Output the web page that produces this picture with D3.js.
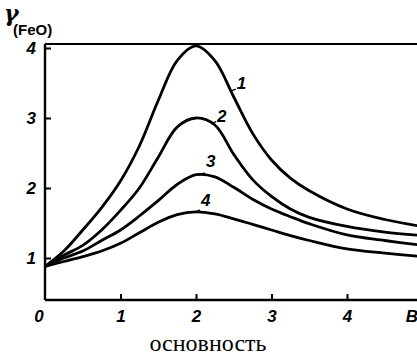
<!DOCTYPE html>
<html>
<head>
<meta charset="utf-8">
<script src="https://d3js.org/d3.v7.min.js"></script>
<style>
  body { margin: 0; background: #fff; }
  svg { display: block; }
</style>
</head>
<body>
<div id="chart"></div>
<script>
// basicity values along the x axis
var basicity = [0, 0.25, 0.5, 0.75, 1, 1.25, 1.5, 1.75, 2, 2.25, 2.5, 2.75, 3, 3.25, 3.5, 4, 4.5, 5];
// activity coefficient of FeO, one array per curve
var curve1 = [0.88, 1.10, 1.40, 1.72, 2.10, 2.60, 3.25, 3.82, 4.03, 3.82, 3.30, 2.78, 2.40, 2.14, 1.96, 1.70, 1.55, 1.45];
var curve2 = [0.88, 1.04, 1.18, 1.40, 1.68, 2.00, 2.44, 2.87, 3.00, 2.90, 2.48, 2.12, 1.88, 1.70, 1.58, 1.45, 1.37, 1.32];
var curve3 = [0.88, 1.00, 1.10, 1.25, 1.40, 1.60, 1.82, 2.05, 2.19, 2.16, 2.01, 1.84, 1.70, 1.59, 1.49, 1.33, 1.25, 1.18];
var curve4 = [0.88, 0.95, 1.02, 1.10, 1.21, 1.36, 1.51, 1.62, 1.66, 1.63, 1.56, 1.48, 1.40, 1.32, 1.25, 1.13, 1.07, 1.02];
var curveNames = ["1", "2", "3", "4"];
var xTicks = [1, 2, 3, 4];
var yTicks = [1, 2, 3, 4];

var W = 417, H = 358;
var svg = d3.select("#chart").append("svg")
    .attr("width", W).attr("height", H);

var x = d3.scaleLinear().domain([0, 5]).range([45, 422.5]);
var y = d3.scaleLinear().domain([0.4, 4.057]).range([300, 44]);

var tickFont = "'Liberation Sans', Arial, sans-serif";

// frame lines: left, top, bottom
svg.append("line").attr("x1", x(0)).attr("x2", x(0)).attr("y1", y(4.057)).attr("y2", y(0.4))
  .attr("stroke", "#000").attr("stroke-width", 2.4);
svg.append("line").attr("x1", x(0)).attr("x2", W).attr("y1", y(4.057)).attr("y2", y(4.057))
  .attr("stroke", "#000").attr("stroke-width", 2);
svg.append("line").attr("x1", x(0)).attr("x2", W).attr("y1", y(0.4)).attr("y2", y(0.4))
  .attr("stroke", "#000").attr("stroke-width", 2.4);

// x axis (ticks pointing up into the plot)
var gx = svg.append("g").attr("transform", "translate(0," + y(0.4) + ")")
  .call(d3.axisBottom(x).tickValues(xTicks).tickSize(-6).tickSizeOuter(0).tickFormat(d3.format("d")));
gx.select(".domain").remove();
gx.selectAll("line").attr("stroke", "#000").attr("stroke-width", 2);
gx.selectAll("text").attr("y", 16).attr("dy", "0.35em")
  .style("font-family", tickFont).style("font-size", "17px")
  .style("font-style", "italic").style("font-weight", "bold");

// zero and B labels on the x axis
svg.append("text").attr("x", x(0) - 6).attr("y", y(0.4) + 22).attr("text-anchor", "middle")
  .style("font-family", tickFont).style("font-size", "17px")
  .style("font-style", "italic").style("font-weight", "bold").text("0");
svg.append("text").attr("x", x(4.86)).attr("y", y(0.4) + 22).attr("text-anchor", "middle")
  .style("font-family", tickFont).style("font-size", "17px")
  .style("font-style", "italic").style("font-weight", "bold").text("B");

// y axis (ticks pointing right)
var gy = svg.append("g").attr("transform", "translate(" + x(0) + ",0)")
  .call(d3.axisLeft(y).tickValues(yTicks).tickSize(-6).tickSizeOuter(0).tickFormat(d3.format("d")));
gy.select(".domain").remove();
gy.selectAll("line").attr("stroke", "#000").attr("stroke-width", 2);
gy.selectAll("text").attr("x", -9)
  .style("font-family", tickFont).style("font-size", "17px")
  .style("font-style", "italic").style("font-weight", "bold");

// y title
svg.append("text").attr("x", 4).attr("y", 21)
  .style("font-family", "'DejaVu Serif', serif").style("font-size", "22px")
  .style("font-style", "italic").style("font-weight", "bold").text("γ");
svg.append("text").attr("x", 13).attr("y", 35)
  .style("font-family", tickFont).style("font-size", "15px")
  .style("font-weight", "bold").text("(FeO)");

// curves
var series = [curve1, curve2, curve3, curve4];
var line = d3.line()
  .x(function(d) { return x(d[0]); })
  .y(function(d) { return y(d[1]); })
  .curve(d3.curveCatmullRom.alpha(0.5));

series.forEach(function(vals) {
  svg.append("path")
    .datum(basicity.map(function(b, i) { return [b, vals[i]]; }))
    .attr("d", line)
    .attr("fill", "none")
    .attr("stroke", "#000")
    .attr("stroke-width", 2.8)
    .attr("stroke-linejoin", "round");
});

// curve labels with small leaders
var labelAt = [2.46, 2.2, 2.04, 2.0];
var labelOff = [[5, -8], [5, -8], [6, -14], [4, -12]];
series.forEach(function(vals, i) {
  var bx = labelAt[i];
  var v = d3.scaleLinear().domain(basicity).range(vals)(bx);
  var px = x(bx), py = y(v);
  var ox = labelOff[i][0], oy = labelOff[i][1];
  svg.append("line").attr("x1", px).attr("y1", py)
    .attr("x2", px + ox).attr("y2", py - 2)
    .attr("stroke", "#000").attr("stroke-width", 1.5);
  svg.append("text").attr("x", px + ox + 1).attr("y", py + oy + 6)
    .style("font-family", tickFont).style("font-size", "17px")
    .style("font-style", "italic").style("font-weight", "bold")
    .text(curveNames[i]);
});

// caption
svg.append("text").attr("x", 208).attr("y", 351).attr("text-anchor", "middle")
  .style("font-family", "'Liberation Serif', 'Times New Roman', serif").style("font-size", "24px")
  .text("основность");
</script>
</body>
</html>
